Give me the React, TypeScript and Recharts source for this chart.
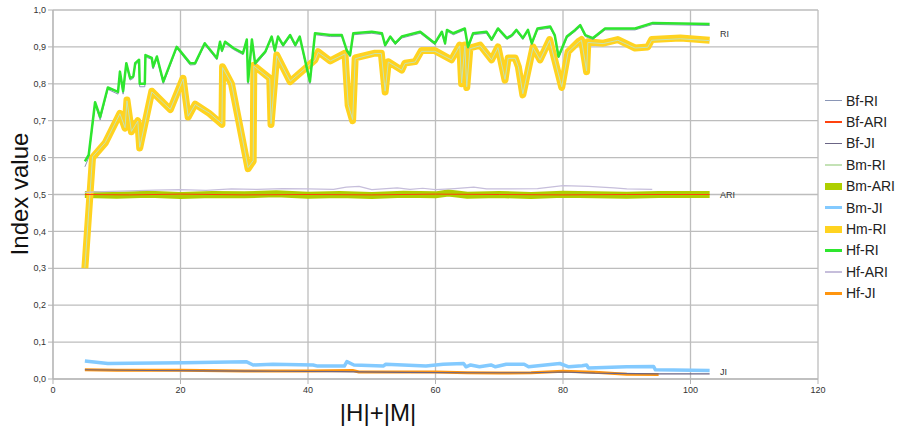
import { LineChart, Line, XAxis, YAxis, CartesianGrid, ReferenceDot } from "recharts";

type Pt = [number, number];

// |H|+|M| against index value, one [x, y] list per series
const hfRi: Pt[] = [
  [5, 0.59], [5.6, 0.607], [6.6, 0.75], [7.4, 0.71], [8.6, 0.79], [10.2, 0.778], [10.5, 0.833],
  [11, 0.78], [11.5, 0.856], [12.1, 0.815], [12.6, 0.82], [12.9, 0.856], [13.5, 0.865], [13.6, 0.8],
  [14.4, 0.8], [14.5, 0.878], [15.5, 0.87], [15.7, 0.846], [16.3, 0.874], [17.3, 0.806], [19.4, 0.9],
  [19.9, 0.89], [21.5, 0.856], [22.3, 0.856], [23.8, 0.91], [25.7, 0.87], [26.2, 0.914], [26.5, 0.89],
  [27, 0.914], [28.3, 0.897], [29.8, 0.883], [30.4, 0.92], [30.6, 0.806], [31.2, 0.92], [31.7, 0.856],
  [33.3, 0.887], [34.3, 0.928], [34.8, 0.89], [35.3, 0.928], [36.1, 0.905], [37.2, 0.932], [38, 0.905],
  [38.7, 0.928], [40.3, 0.806], [41.1, 0.937], [43.5, 0.932], [45.3, 0.932], [46.1, 0.89], [46.6, 0.878],
  [47.1, 0.937], [50, 0.941], [51.6, 0.937], [52.1, 0.905], [52.9, 0.928], [53.7, 0.91], [54.7, 0.928],
  [57.6, 0.941], [59.9, 0.91], [61, 0.941], [61.5, 0.91], [61.8, 0.946], [62.8, 0.937], [64.6, 0.95],
  [65.1, 0.9], [65.9, 0.937], [68, 0.941], [68.8, 0.92], [69.8, 0.95], [71.2, 0.924], [72, 0.932],
  [72.7, 0.946], [73.7, 0.924], [74.5, 0.946], [75.1, 0.91], [76, 0.95], [78, 0.955], [78.7, 0.932],
  [79.3, 0.874], [80.6, 0.928], [81.9, 0.946], [82.7, 0.959], [83.5, 0.932], [84.7, 0.924], [86.6, 0.95],
  [91.3, 0.95], [94.1, 0.965], [103, 0.962],
];

const bfRi: Pt[] = [
  [5, 0.575], [5.6, 0.6], [6.6, 0.744], [7.4, 0.702], [8.6, 0.785], [10.2, 0.772], [10.5, 0.828],
  [11, 0.772], [11.5, 0.851], [12.1, 0.81], [12.6, 0.815], [12.9, 0.851], [13.5, 0.86], [13.6, 0.792],
  [14.4, 0.792], [14.5, 0.873], [15.5, 0.866], [15.7, 0.84], [16.3, 0.87], [17.3, 0.8], [19.4, 0.896],
  [19.9, 0.886], [21.5, 0.851], [22.3, 0.852], [23.8, 0.906], [25.7, 0.865], [26.2, 0.91], [26.5, 0.886],
  [27, 0.91], [28.3, 0.893], [29.8, 0.879], [30.4, 0.916], [30.6, 0.8], [31.2, 0.916], [31.7, 0.851],
  [33.3, 0.883], [34.3, 0.924], [34.8, 0.886], [35.3, 0.924], [36.1, 0.901], [37.2, 0.928], [38, 0.901],
  [38.7, 0.924], [40.3, 0.8], [41.1, 0.933], [43.5, 0.928], [45.3, 0.928], [46.1, 0.886], [46.6, 0.873],
  [47.1, 0.933], [50, 0.937], [51.6, 0.933], [52.1, 0.901], [52.9, 0.924], [53.7, 0.906], [54.7, 0.924],
  [57.6, 0.937], [59.9, 0.906], [61, 0.937], [61.5, 0.906], [61.8, 0.942], [62.8, 0.933], [64.6, 0.946],
  [65.1, 0.896], [65.9, 0.933], [68, 0.937], [68.8, 0.916], [69.8, 0.946], [71.2, 0.92], [72, 0.928],
  [72.7, 0.942], [73.7, 0.92], [74.5, 0.942], [75.1, 0.906], [76, 0.946], [78, 0.951], [78.7, 0.928],
  [79.3, 0.87], [80.6, 0.924], [81.9, 0.942], [82.7, 0.955], [83.5, 0.928], [84.7, 0.92], [86.6, 0.946],
  [91.3, 0.946], [94.1, 0.961], [103, 0.958],
];

const hmRi: Pt[] = [
  [5, 0.3], [6.2, 0.6], [8.2, 0.64], [10.5, 0.72], [11.3, 0.68], [11.6, 0.756], [12.3, 0.67],
  [13.3, 0.7], [13.6, 0.626], [15.5, 0.78], [18.4, 0.73], [20.4, 0.815], [21.2, 0.71], [22.3, 0.745],
  [24.5, 0.72], [26.5, 0.69], [26.6, 0.846], [28, 0.8], [30.6, 0.57], [31.4, 0.59], [31.5, 0.85],
  [34, 0.815], [34.2, 0.69], [35.1, 0.878], [37.2, 0.806], [41.1, 0.865], [41.6, 0.887], [43.5, 0.862],
  [45.8, 0.883], [46.3, 0.742], [47, 0.7], [47.4, 0.87], [50.5, 0.883], [51.5, 0.883], [52.1, 0.778],
  [52.6, 0.86], [54.7, 0.837], [55.2, 0.856], [56.8, 0.86], [57.8, 0.89], [59.9, 0.89], [62.5, 0.865],
  [63.8, 0.905], [64.1, 0.8], [64.6, 0.905], [64.9, 0.79], [65.4, 0.897], [67, 0.905], [68.8, 0.865],
  [69.8, 0.9], [70.9, 0.81], [71.4, 0.87], [72.5, 0.87], [73, 0.846], [73.7, 0.77], [75.3, 0.9],
  [76.4, 0.865], [77.9, 0.92], [79.8, 0.79], [80.8, 0.887], [82.4, 0.914], [82.9, 0.92], [83.7, 0.833],
  [83.9, 0.914], [86.3, 0.91], [88.6, 0.92], [91.3, 0.897], [93.3, 0.9], [93.9, 0.92], [98.4, 0.924],
  [103, 0.918],
];

const bmRi: Pt[] = [
  [5, 0.302], [6.2, 0.602], [8.2, 0.641], [10.5, 0.719], [11.3, 0.681], [11.6, 0.754], [12.3, 0.671],
  [13.3, 0.699], [13.6, 0.628], [15.5, 0.778], [18.4, 0.731], [20.4, 0.813], [21.2, 0.712], [22.3, 0.744],
  [24.5, 0.721], [26.5, 0.692], [26.6, 0.844], [28, 0.801], [30.6, 0.573], [31.4, 0.592], [31.5, 0.848],
  [34, 0.814], [34.2, 0.692], [35.1, 0.876], [37.2, 0.807], [41.1, 0.864], [41.6, 0.885], [43.5, 0.862],
  [45.8, 0.881], [46.3, 0.744], [47, 0.703], [47.4, 0.868], [50.5, 0.882], [51.5, 0.882], [52.1, 0.78],
  [52.6, 0.859], [54.7, 0.837], [55.2, 0.855], [56.8, 0.859], [57.8, 0.888], [59.9, 0.888], [62.5, 0.865],
  [63.8, 0.903], [64.1, 0.802], [64.6, 0.903], [64.9, 0.792], [65.4, 0.895], [67, 0.903], [68.8, 0.865],
  [69.8, 0.898], [70.9, 0.812], [71.4, 0.869], [72.5, 0.869], [73, 0.846], [73.7, 0.773], [75.3, 0.898],
  [76.4, 0.865], [77.9, 0.918], [79.8, 0.792], [80.8, 0.886], [82.4, 0.912], [82.9, 0.918], [83.7, 0.835],
  [83.9, 0.912], [86.3, 0.909], [88.6, 0.918], [91.3, 0.897], [93.3, 0.899], [93.9, 0.918], [98.4, 0.922],
  [103, 0.917],
];

const bmAri: Pt[] = [
  [5, 0.5], [10, 0.498], [15, 0.501], [20, 0.497], [25, 0.5], [30, 0.499], [35, 0.502], [40, 0.498],
  [45, 0.5], [50, 0.497], [55, 0.501], [60, 0.499], [62, 0.504], [65, 0.498], [70, 0.5], [75, 0.497],
  [80, 0.501], [85, 0.499], [90, 0.498], [95, 0.5], [103, 0.5],
];

const bfAri: Pt[] = [
  [5, 0.5], [12, 0.499], [20, 0.501], [30, 0.499], [40, 0.5], [50, 0.499], [60, 0.501], [70, 0.5],
  [80, 0.499], [90, 0.5], [103, 0.5],
];

const hfAri: Pt[] = [
  [5, 0.506], [8, 0.508], [12, 0.51], [16, 0.512], [20, 0.513], [24, 0.511], [28, 0.515], [32, 0.514],
  [36, 0.516], [40, 0.515], [44, 0.514], [46, 0.52], [48, 0.522], [50, 0.513], [54, 0.518], [56, 0.514],
  [58, 0.517], [60, 0.513], [63, 0.516], [66, 0.52], [68, 0.515], [72, 0.515], [76, 0.516], [80, 0.524],
  [84, 0.522], [88, 0.518], [90, 0.515], [94, 0.514],
];

const bmJi: Pt[] = [
  [5, 0.049], [8.6, 0.042], [12.1, 0.043], [20.5, 0.044], [30.3, 0.047], [31.4, 0.038], [34.5, 0.04],
  [40.8, 0.038], [41.5, 0.035], [45.7, 0.035], [46.1, 0.047], [47.2, 0.038], [51.8, 0.035], [52.2, 0.04],
  [58.5, 0.035], [61.2, 0.04], [64.4, 0.042], [64.8, 0.033], [65.5, 0.038], [66.9, 0.033], [68.7, 0.038],
  [69.4, 0.033], [71.1, 0.04], [73.9, 0.04], [74.6, 0.033], [79.5, 0.042], [80.9, 0.033], [83, 0.036],
  [83.7, 0.038], [84, 0.03], [90, 0.033], [94.2, 0.034], [94.5, 0.025], [103, 0.023],
];

const bfJi: Pt[] = [
  [5, 0.025], [15, 0.023], [25, 0.022], [35, 0.021], [45, 0.02], [55, 0.018], [65, 0.017], [75, 0.017],
  [80, 0.019], [85, 0.016], [95, 0.014], [103, 0.014],
];

const hfJi: Pt[] = [
  [5, 0.025], [10, 0.024], [20, 0.024], [30, 0.022], [40, 0.022], [47, 0.023], [48, 0.019], [60, 0.019],
  [65, 0.017], [70, 0.016], [75, 0.017], [80, 0.021], [85, 0.018], [90, 0.013], [95, 0.012],
];

const xTicks = [0, 20, 40, 60, 80, 100, 120];
const yTicks = [0, 0.1, 0.2, 0.3, 0.4, 0.5, 0.6, 0.7, 0.8, 0.9, 1];
const groupLabels = [
  { text: "RI", y: 0.935 },
  { text: "ARI", y: 0.5 },
  { text: "JI", y: 0.019 },
];

const series = [
  { name: "Bf-RI", pts: bfRi, color: "#8a96b6", width: 1 },
  { name: "Bf-ARI", pts: bfAri, color: "#ff420e", width: 1 },
  { name: "Bf-JI", pts: bfJi, color: "#6b6585", width: 1.2 },
  { name: "Bm-RI", pts: bmRi, color: "#c4e2b6", width: 1 },
  { name: "Bm-ARI", pts: bmAri, color: "#aecf00", width: 7 },
  { name: "Bm-JI", pts: bmJi, color: "#83caff", width: 3.5 },
  { name: "Hm-RI", pts: hmRi, color: "#ffd320", width: 7 },
  { name: "Hf-RI", pts: hfRi, color: "#2ee62e", width: 2.5 },
  { name: "Hf-ARI", pts: hfAri, color: "#c6bedb", width: 1.2 },
  { name: "Hf-JI", pts: hfJi, color: "#ff950e", width: 3 },
];

// paint order: wide bands first, thin lines on top
const drawOrder = ["Bm-ARI", "Bm-JI", "Hm-RI", "Bm-RI", "Bf-RI", "Hf-RI", "Hf-ARI", "Hf-JI", "Bf-ARI", "Bf-JI"];

const font = "'Liberation Sans', Arial, sans-serif";
const comma = (v: number) => v.toFixed(1).replace(".", ",");

export default function App() {
  return (
    <div style={{ position: "absolute", left: 0, top: 0, width: 902, height: 427, background: "#fff", fontFamily: font }}>
      <LineChart width={902} height={427} margin={{ top: 10, right: 84, bottom: 0, left: 0 }}>
        <CartesianGrid stroke="#bdbdbd" strokeWidth={1.3} />
        <XAxis
          type="number"
          dataKey="x"
          domain={[0, 120]}
          ticks={xTicks}
          height={48}
          stroke="#b3b3b3"
          tickSize={5}
          tickMargin={3}
          tick={{ fontSize: 9, fill: "#333", fontFamily: font }}
          allowDuplicatedCategory={false}
          label={{
            content: () => (
              <text x={378} y={421} textAnchor="middle" fontSize={24} fill="#111" fontFamily={font}>
                |H|+|M|
              </text>
            ),
          }}
        />
        <YAxis
          type="number"
          dataKey="y"
          domain={[0, 1]}
          ticks={yTicks}
          width={53}
          stroke="#b3b3b3"
          tickSize={5}
          tickMargin={2}
          tickFormatter={comma}
          tick={{ fontSize: 9, fill: "#333", fontFamily: font }}
          label={{
            content: () => (
              <text x={28} y={194} transform="rotate(-90 28 194)" textAnchor="middle" fontSize={24} fill="#111" fontFamily={font}>
                Index value
              </text>
            ),
          }}
        />
        {drawOrder.map((n) => {
          const s = series.find((d) => d.name === n)!;
          return (
            <Line
              key={s.name}
              data={s.pts.map(([x, y]) => ({ x, y }))}
              dataKey="y"
              name={s.name}
              type="linear"
              stroke={s.color}
              strokeWidth={s.width}
              strokeLinejoin="round"
              dot={false}
              activeDot={false}
              isAnimationActive={false}
            />
          );
        })}
        {groupLabels.map((g) => (
          <ReferenceDot
            key={g.text}
            x={104.3}
            y={g.y}
            r={0}
            fill="none"
            stroke="none"
            label={{ value: g.text, position: "right", offset: 2, fontSize: 9, fill: "#333", fontFamily: font }}
          />
        ))}
      </LineChart>
      <div style={{ position: "absolute", left: 825, top: 90 }}>
        {series.map((s) => (
          <div key={s.name} style={{ display: "flex", alignItems: "center", height: 21.4 }}>
            <span style={{ display: "inline-block", width: 17, height: Math.max(1.5, Math.min(s.width, 8)), background: s.color }} />
            <span style={{ marginLeft: 4, fontSize: 14, color: "#222", whiteSpace: "nowrap" }}>{s.name}</span>
          </div>
        ))}
      </div>
    </div>
  );
}
